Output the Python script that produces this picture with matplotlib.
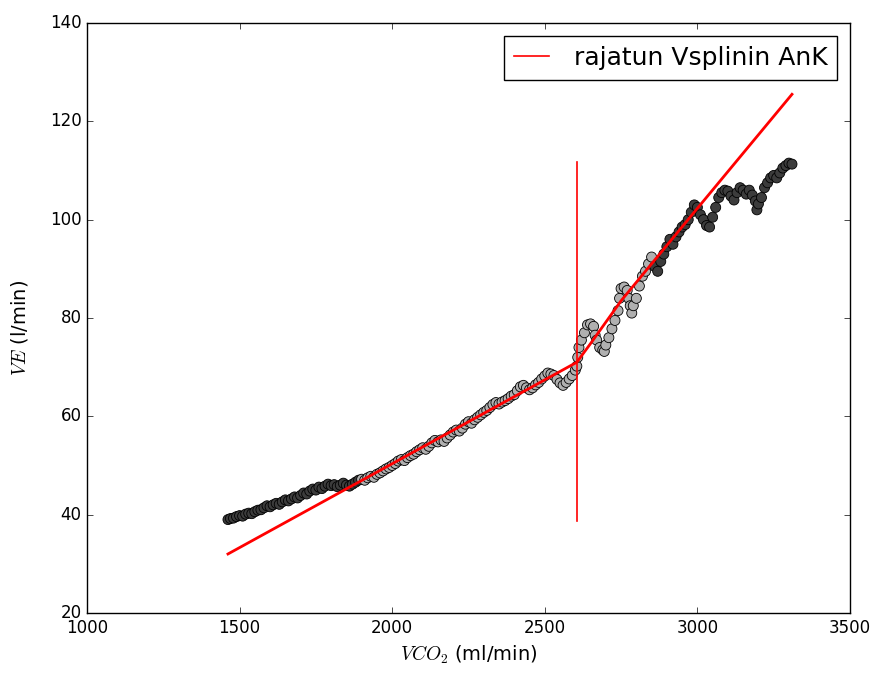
import matplotlib
matplotlib.use("Agg")
import matplotlib.pyplot as plt
import numpy as np

plt.style.use("classic")

# ---- data ----
vco2 = [1462, 1470, 1480, 1490, 1500, 1510, 1520, 1530, 1540, 1550, 1560, 1570, 1580, 1590,
        1600, 1610, 1620, 1630, 1640, 1650, 1660, 1670, 1680, 1690, 1700, 1710, 1720, 1730,
        1740, 1750, 1760, 1770, 1780, 1790, 1800, 1810, 1820, 1830, 1840, 1850, 1860, 1870,
        1880, 1890,
        1900, 1910, 1920, 1930, 1940, 1950, 1960, 1970, 1980, 1990, 2000, 2010, 2020, 2030,
        2040, 2050, 2060, 2070, 2080, 2090, 2100, 2110, 2120, 2130, 2140, 2150, 2160, 2170,
        2180, 2190, 2200, 2210, 2220, 2230, 2240, 2250, 2260, 2270, 2280, 2290, 2300, 2310,
        2320, 2330, 2340, 2350, 2360, 2370, 2380, 2390, 2400, 2410, 2420, 2430, 2440, 2450,
        2460, 2470, 2480, 2490, 2500, 2510, 2520, 2530, 2540, 2550, 2560, 2570, 2580, 2590,
        2600, 2605,
        2608, 2612, 2620, 2630, 2640, 2650, 2660, 2665, 2670, 2680, 2690, 2695, 2700, 2710,
        2720, 2730, 2740, 2745, 2750, 2760, 2770, 2775, 2780, 2785, 2790, 2800, 2810, 2820,
        2830, 2840, 2850,
        2860, 2870, 2880, 2890, 2900, 2910, 2920, 2930, 2940, 2950, 2960, 2970, 2980, 2990,
        3000, 3010, 3020, 3030, 3040, 3050, 3060, 3070, 3080, 3090, 3100, 3110, 3120, 3130,
        3140, 3150, 3160, 3170, 3180, 3190, 3195, 3200, 3210, 3220, 3230, 3240, 3250, 3260,
        3270, 3280, 3290, 3300, 3310]
ve = [39.0, 39.2, 39.3, 39.6, 39.8, 39.7, 40.1, 40.3, 40.2, 40.6, 40.9, 41.0, 41.4, 41.8,
      41.6, 42.0, 42.3, 42.1, 42.6, 43.0, 42.8, 43.2, 43.6, 43.4, 43.9, 44.4, 44.2, 44.8,
      45.2, 45.0, 45.6, 45.3, 45.8, 46.2, 45.9, 46.1, 45.7, 46.0, 46.4, 46.0, 45.8, 46.2,
      46.6, 47.0,
      47.2, 47.0, 47.5, 47.8, 47.6, 48.2, 48.5, 48.9, 49.3, 49.6, 50.0, 50.4, 50.9, 51.2,
      51.0, 51.6, 52.0, 52.3, 52.8, 53.2, 53.6, 53.3, 53.9, 54.6, 55.1, 54.8, 55.2, 54.9,
      55.6, 56.2, 56.8, 57.2, 57.0, 57.6, 58.4, 58.9, 58.6, 59.3, 59.8, 60.3, 60.8, 61.2,
      61.8, 62.4, 62.8, 62.5, 62.9, 63.2, 63.6, 64.1, 64.4, 65.2, 66.0, 66.3, 65.8, 65.4,
      65.8, 66.4, 66.9, 67.6, 68.2, 68.8, 68.6, 68.3, 67.5, 66.8, 66.3, 66.9, 67.6, 68.3,
      69.4, 70.2,
      72.0, 74.0, 75.5, 77.0, 78.6, 78.8, 78.3, 76.5, 75.5, 74.0, 73.5, 73.2, 74.5, 76.0,
      77.8, 79.5, 81.5, 84.0, 86.0, 86.3, 85.6, 84.0, 82.5, 81.0, 82.5, 84.0, 86.5, 88.5,
      89.5, 91.0, 92.4,
      90.5, 89.5, 91.5, 93.0, 94.5, 96.0, 95.0, 96.5, 97.5, 98.5, 99.0, 100.0, 101.5, 103.0,
      102.5, 101.0, 100.0, 98.8, 98.5, 100.5, 102.5, 104.5, 105.5, 106.0, 105.8, 104.8, 104.0, 105.5,
      106.5, 106.0, 105.2, 106.0, 105.0, 103.8, 102.0, 103.2, 104.5, 106.5, 107.5, 108.5, 109.0, 108.5,
      109.5, 110.5, 111.0, 111.5, 111.3]

fit_x = [1462, 2605, 2650, 2750, 3000, 3310]
fit_y = [32.0, 71.0, 74.8, 83.5, 102.3, 125.5]

threshold_x = 2605
threshold_ymin = 38.8
threshold_ymax = 111.8

legend_label = "rajatun Vsplinin AnK"

# ---- figure ----
fig = plt.figure(figsize=(8.75, 6.73), dpi=100, facecolor="white")
ax = fig.add_axes([0.0994, 0.0892, 0.872, 0.8766])
ax.set_facecolor("white")

vx = np.array(vco2)
colors = np.where((vx < 1900) | (vx > 2855), "#3c3c3c", "#b0b0b0")
ax.scatter(vco2, ve, s=52, c=colors, edgecolors="black", linewidths=0.6, zorder=2)

ax.plot(fit_x, fit_y, color="red", lw=2, zorder=3)
ax.plot([threshold_x, threshold_x], [threshold_ymin, threshold_ymax], color="red", lw=1.2,
        label=legend_label, zorder=3)

ax.set_xlim(1000, 3500)
ax.set_ylim(20, 140)
ax.set_xticks([1000, 1500, 2000, 2500, 3000, 3500])
ax.set_yticks([20, 40, 60, 80, 100, 120, 140])
ax.tick_params(labelsize=12)
ax.set_xlabel(r"$VCO_2$ (ml/min)", fontsize=14)
ax.set_ylabel(r"$VE$ (l/min)", fontsize=14)
ax.yaxis.set_label_coords(-0.075, 0.483)

leg = ax.legend(loc="upper right", fontsize=18, numpoints=1, handlelength=1.4,
                handletextpad=1.0, borderaxespad=0.5)
leg.get_frame().set_linewidth(1)

fig.savefig("out.png", dpi=100, facecolor="white")
